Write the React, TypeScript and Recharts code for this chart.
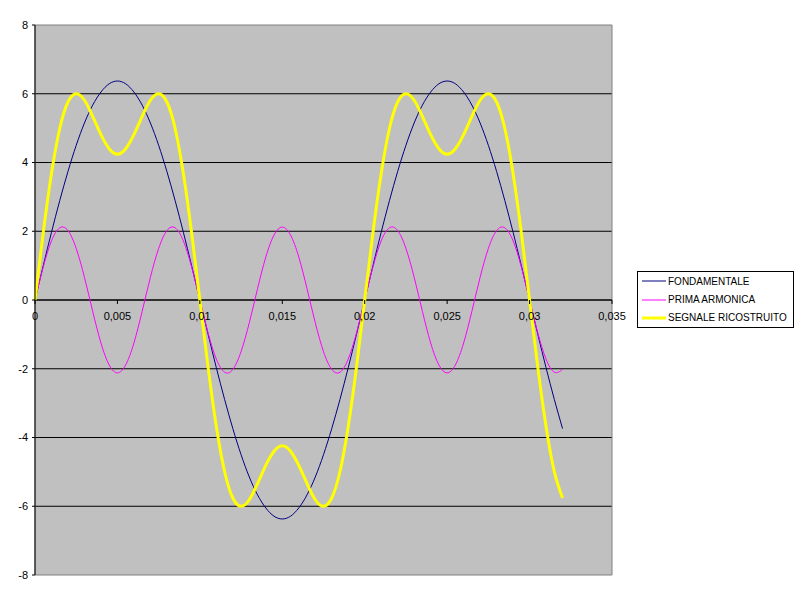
import {
  CartesianGrid,
  Legend,
  Line,
  LineChart,
  ReferenceArea,
  ReferenceLine,
  XAxis,
  YAxis
} from "recharts";

// time in seconds
const TIME = [
  0, 0.0005, 0.001, 0.0015, 0.002, 0.0025, 0.003, 0.0035, 0.004, 0.0045,
  0.005, 0.0055, 0.006, 0.0065, 0.007, 0.0075, 0.008, 0.0085, 0.009, 0.0095,
  0.01, 0.0105, 0.011, 0.0115, 0.012, 0.0125, 0.013, 0.0135, 0.014, 0.0145,
  0.015, 0.0155, 0.016, 0.0165, 0.017, 0.0175, 0.018, 0.0185, 0.019, 0.0195,
  0.02, 0.0205, 0.021, 0.0215, 0.022, 0.0225, 0.023, 0.0235, 0.024, 0.0245,
  0.025, 0.0255, 0.026, 0.0265, 0.027, 0.0275, 0.028, 0.0285, 0.029, 0.0295,
  0.03, 0.0305, 0.031, 0.0315, 0.032
];

const FONDAMENTALE = [
  0, 1.0, 1.97, 2.89, 3.74, 4.5, 5.15, 5.67, 6.05, 6.29,
  6.37, 6.29, 6.05, 5.67, 5.15, 4.5, 3.74, 2.89, 1.97, 1.0,
  0, -1.0, -1.97, -2.89, -3.74, -4.5, -5.15, -5.67, -6.05, -6.29,
  -6.37, -6.29, -6.05, -5.67, -5.15, -4.5, -3.74, -2.89, -1.97, -1.0,
  0, 1.0, 1.97, 2.89, 3.74, 4.5, 5.15, 5.67, 6.05, 6.29,
  6.37, 6.29, 6.05, 5.67, 5.15, 4.5, 3.74, 2.89, 1.97, 1.0,
  0, -1.0, -1.97, -2.89, -3.74
];

const PRIMA_ARMONICA = [
  0, 0.96, 1.72, 2.1, 2.02, 1.5, 0.66, -0.33, -1.25, -1.89,
  -2.12, -1.89, -1.25, -0.33, 0.66, 1.5, 2.02, 2.1, 1.72, 0.96,
  0, -0.96, -1.72, -2.1, -2.02, -1.5, -0.66, 0.33, 1.25, 1.89,
  2.12, 1.89, 1.25, 0.33, -0.66, -1.5, -2.02, -2.1, -1.72, -0.96,
  0, 0.96, 1.72, 2.1, 2.02, 1.5, 0.66, -0.33, -1.25, -1.89,
  -2.12, -1.89, -1.25, -0.33, 0.66, 1.5, 2.02, 2.1, 1.72, 0.96,
  0, -0.96, -1.72, -2.1, -2.02
];

const SEGNALE_RICOSTRUITO = [
  0, 1.96, 3.68, 4.99, 5.76, 6.0, 5.81, 5.34, 4.81, 4.4,
  4.24, 4.4, 4.81, 5.34, 5.81, 6.0, 5.76, 4.99, 3.68, 1.96,
  0, -1.96, -3.68, -4.99, -5.76, -6.0, -5.81, -5.34, -4.81, -4.4,
  -4.24, -4.4, -4.81, -5.34, -5.81, -6.0, -5.76, -4.99, -3.68, -1.96,
  0, 1.96, 3.68, 4.99, 5.76, 6.0, 5.81, 5.34, 4.81, 4.4,
  4.24, 4.4, 4.81, 5.34, 5.81, 6.0, 5.76, 4.99, 3.68, 1.96,
  0, -1.96, -3.68, -4.99, -5.76
];

const X_TICKS = [0, 0.005, 0.01, 0.015, 0.02, 0.025, 0.03, 0.035];
const X_LABELS = ["0", "0,005", "0,01", "0,015", "0,02", "0,025", "0,03", "0,035"];
const Y_TICKS = [-8, -6, -4, -2, 0, 2, 4, 6, 8];
const GRID_VALUES = [-6, -4, -2, 0, 2, 4, 6];

const SERIES = [
  { key: "fond", name: "FONDAMENTALE", color: "#000080", width: 1 },
  { key: "arm", name: "PRIMA ARMONICA", color: "#FF00FF", width: 1 },
  { key: "sum", name: "SEGNALE RICOSTRUITO", color: "#FFFF00", width: 3 }
];

const data = TIME.map((t, i) => ({
  t,
  fond: FONDAMENTALE[i],
  arm: PRIMA_ARMONICA[i],
  sum: SEGNALE_RICOSTRUITO[i]
}));

const FONT = "Arial, 'Liberation Sans', sans-serif";
const PLOT_HEIGHT = 550;

// x axis labels sit on the zero line, not at the bottom of the plot
function XTick(props: any) {
  const { x, y, payload } = props;
  const zeroY = y - PLOT_HEIGHT / 2;
  const idx = X_TICKS.indexOf(payload.value);
  return (
    <g>
      <line x1={x} y1={zeroY} x2={x} y2={zeroY + 4} stroke="#000" />
      <text x={x} y={zeroY + 20} textAnchor="middle" fontSize={11} fontFamily={FONT} fill="#000">
        {X_LABELS[idx]}
      </text>
    </g>
  );
}

function LegendBox() {
  return (
    <div
      style={{
        boxSizing: "border-box",
        width: 157,
        height: 57,
        border: "1px solid #000",
        background: "#fff",
        fontFamily: FONT,
        fontSize: 10,
        color: "#000"
      }}
    >
      {SERIES.map((s) => (
        <div key={s.key} style={{ display: "flex", alignItems: "center", height: 18.4 }}>
          <svg width={27} height={6} style={{ marginLeft: 3 }}>
            <line x1={1} y1={3} x2={25} y2={3} stroke={s.color} strokeWidth={s.width} />
          </svg>
          <span style={{ whiteSpace: "nowrap" }}>{s.name}</span>
        </div>
      ))}
    </div>
  );
}

export default function App() {
  return (
    <div style={{ position: "absolute", left: 0, top: 0, width: 800, height: 600, background: "#fff" }}>
      <LineChart width={800} height={600} data={data} margin={{ top: 25, right: 188, bottom: 5, left: 0 }}>
        <CartesianGrid
          vertical={false}
          horizontalValues={GRID_VALUES}
          stroke="#000"
          fill="#C0C0C0"
          fillOpacity={1}
        />
        <ReferenceArea x1={0} x2={0.035} y1={-8} y2={8} fill="none" stroke="#808080" strokeWidth={1} />
        <XAxis
          dataKey="t"
          type="number"
          domain={[0, 0.035]}
          ticks={X_TICKS}
          height={20}
          axisLine={false}
          tickLine={false}
          tickSize={0}
          tickMargin={0}
          tick={<XTick />}
          interval={0}
        />
        <YAxis
          type="number"
          domain={[-8, 8]}
          ticks={Y_TICKS}
          width={35}
          interval={0}
          tickSize={3}
          tickMargin={4}
          axisLine={{ stroke: "#000" }}
          tickLine={{ stroke: "#000" }}
          tick={{ fill: "#000", fontSize: 11, fontFamily: FONT }}
        />
        <ReferenceLine y={0} stroke="#000" strokeWidth={1} />
        {SERIES.map((s) => (
          <Line
            key={s.key}
            type="natural"
            dataKey={s.key}
            name={s.name}
            stroke={s.color}
            strokeWidth={s.width}
            dot={false}
            activeDot={false}
            isAnimationActive={false}
          />
        ))}
        <Legend
          layout="horizontal"
          align="center"
          verticalAlign="middle"
          content={<LegendBox />}
          wrapperStyle={{ left: 637, top: 271, width: 157, height: 57 }}
        />
      </LineChart>
    </div>
  );
}
